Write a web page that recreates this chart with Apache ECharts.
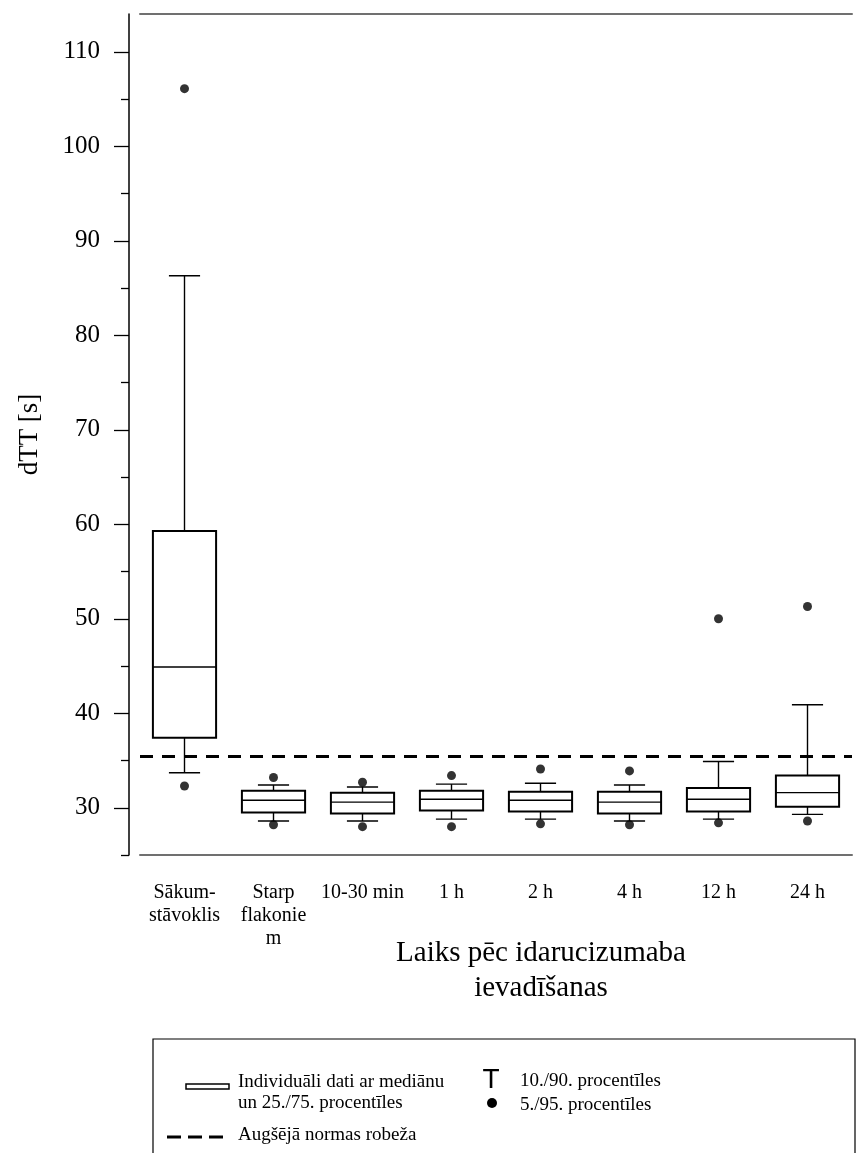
<!DOCTYPE html>
<html>
<head>
<meta charset="utf-8">
<script src="https://cdn.jsdelivr.net/npm/echarts@6/dist/echarts.min.js"></script>
<style>
  html, body { margin: 0; padding: 0; background: #fff; }
  #chart { width: 862px; height: 1153px; }
</style>
</head>
<body>
<div id="chart"></div>
<script>
// categories (time after idarucizumab)
const categories = ['Sākum-\nstāvoklis', 'Starp\nflakonie\nm', '10-30 min', '1 h', '2 h', '4 h', '12 h', '24 h'];

// percentiles
const p5     = [32.3, 28.2, 28.0, 28.0, 28.3, 28.2, 28.4, 28.6];
const p10    = [33.7, 28.6, 28.6, 28.8, 28.8, 28.6, 28.8, 29.3];
const q1     = [37.4, 29.5, 29.4, 29.7, 29.6, 29.4, 29.6, 30.1];
const median = [44.9, 30.8, 30.6, 30.9, 30.8, 30.6, 30.9, 31.6];
const q3     = [59.3, 31.8, 31.6, 31.8, 31.7, 31.7, 32.1, 33.4];
const p90    = [86.3, 32.4, 32.2, 32.5, 32.6, 32.4, 34.9, 40.9];
const p95    = [106.1, 33.2, 32.7, 33.4, 34.1, 33.9, 50.0, 51.3];

const upperLimit = 35.5;

// y axis ticks
const yMajorTicks = [30, 40, 50, 60, 70, 80, 90, 100, 110];
const yMinorTicks = [25, 35, 45, 55, 65, 75, 85, 95, 105];

const serif = 'Liberation Serif';
const chart = echarts.init(document.getElementById('chart'));

function renderBox(params, api) {
  const x = api.value(0);
  const lo = api.coord([x, api.value(1)]);
  const b1 = api.coord([x, api.value(2)]);
  const md = api.coord([x, api.value(3)]);
  const b3 = api.coord([x, api.value(4)]);
  const hi = api.coord([x, api.value(5)]);
  const band = api.size([1, 0])[0];
  const bw = band * 0.71;
  const cw = band * 0.35;
  const cx = lo[0];
  const line = (x1, y1, x2, y2, w) => ({
    type: 'line',
    shape: { x1, y1, x2, y2 },
    style: { stroke: '#000', lineWidth: w }
  });
  return {
    type: 'group',
    children: [
      line(cx, hi[1], cx, b3[1], 1.4),
      line(cx, b1[1], cx, lo[1], 1.4),
      line(cx - cw / 2, hi[1], cx + cw / 2, hi[1], 1.4),
      line(cx - cw / 2, lo[1], cx + cw / 2, lo[1], 1.4),
      {
        type: 'rect',
        shape: { x: cx - bw / 2, y: b3[1], width: bw, height: b1[1] - b3[1] },
        style: { fill: '#fff', stroke: '#000', lineWidth: 2 }
      },
      line(cx - bw / 2, md[1], cx + bw / 2, md[1], 1.4)
    ]
  };
}

const option = {
  backgroundColor: '#fff',
  animation: false,
  grid: { left: 140, right: 10, top: 14, bottom: 298 },
  xAxis: [
    {
      type: 'category',
      data: categories,
      position: 'bottom',
      axisLine: { lineStyle: { color: '#707070', width: 2 } },
      axisTick: { alignWithLabel: true, length: 15, lineStyle: { color: '#000', width: 1.3 } },
      axisLabel: {
        interval: 0, margin: 26, color: '#000',
        fontFamily: serif, fontSize: 20, lineHeight: 23, align: 'center'
      },
      splitLine: { show: false }
    },
    {
      type: 'category',
      data: categories,
      position: 'top',
      axisLine: { lineStyle: { color: '#707070', width: 2 } },
      axisTick: { show: false },
      axisLabel: { show: false },
      splitLine: { show: false }
    }
  ],
  yAxis: [
    {
      type: 'value',
      min: 25, max: 114,
      offset: 11,
      name: 'dTT [s]',
      nameLocation: 'middle',
      nameGap: 86,
      nameTextStyle: { fontFamily: serif, fontSize: 27, color: '#000' },
      axisLine: { show: true, lineStyle: { color: '#000', width: 1.5 } },
      axisTick: { show: true, length: 15, customValues: yMajorTicks, lineStyle: { color: '#000', width: 1.3 } },
      axisLabel: { customValues: yMajorTicks, margin: 29, color: '#000', fontFamily: serif, fontSize: 25 },
      splitLine: { show: false }
    },
    {
      type: 'value',
      min: 25, max: 114,
      offset: 11,
      position: 'left',
      axisLine: { show: false },
      axisTick: { show: true, length: 8, customValues: yMinorTicks, lineStyle: { color: '#000', width: 1.3 } },
      axisLabel: { show: false },
      splitLine: { show: false }
    }
  ],
  series: [
    {
      type: 'custom',
      renderItem: renderBox,
      encode: { x: 0, y: [1, 2, 3, 4, 5] },
      data: categories.map((c, i) => [i, p10[i], q1[i], median[i], q3[i], p90[i]]),
      z: 3
    },
    {
      type: 'scatter',
      symbol: 'circle',
      symbolSize: 9,
      itemStyle: { color: '#000' },
      data: categories.map((c, i) => [i, p95[i]]).concat(categories.map((c, i) => [i, p5[i]])),
      z: 4,
      markLine: {
        silent: true,
        symbol: 'none',
        label: { show: false },
        lineStyle: { color: '#000', width: 3, type: [13, 9] },
        data: [{ yAxis: upperLimit }],
        z: 2
      }
    }
  ],
  graphic: [
    {
      type: 'text',
      x: 541, y: 936,
      style: {
        text: 'Laiks pēc idarucizumaba\nievadīšanas',
        fontFamily: serif, fontSize: 29, lineHeight: 35,
        fill: '#000', align: 'center', verticalAlign: 'top'
      }
    },
    // legend box
    {
      type: 'rect',
      shape: { x: 153, y: 1039, width: 702, height: 130 },
      style: { fill: 'none', stroke: '#000', lineWidth: 1.2 }
    },
    {
      type: 'rect',
      shape: { x: 186, y: 1084, width: 43, height: 5 },
      style: { fill: '#fff', stroke: '#000', lineWidth: 1.5 }
    },
    {
      type: 'text', x: 238, y: 1072,
      style: {
        text: 'Individuāli dati ar mediānu\nun 25./75. procentīles',
        fontFamily: serif, fontSize: 19, lineHeight: 21,
        fill: '#000', align: 'left', verticalAlign: 'top'
      }
    },
    {
      type: 'line',
      shape: { x1: 167, y1: 1137, x2: 223, y2: 1137 },
      style: { stroke: '#000', lineWidth: 3, lineDash: [14, 7] }
    },
    {
      type: 'text', x: 238, y: 1135,
      style: {
        text: 'Augšējā normas robeža',
        fontFamily: serif, fontSize: 19,
        fill: '#000', align: 'left', verticalAlign: 'middle'
      }
    },
    {
      type: 'text', x: 491, y: 1080,
      style: {
        text: 'T', fontFamily: 'Liberation Sans', fontSize: 28,
        fill: '#000', align: 'center', verticalAlign: 'middle'
      }
    },
    {
      type: 'text', x: 520, y: 1081,
      style: {
        text: '10./90. procentīles', fontFamily: serif, fontSize: 19,
        fill: '#000', align: 'left', verticalAlign: 'middle'
      }
    },
    {
      type: 'circle',
      shape: { cx: 492, cy: 1103, r: 5 },
      style: { fill: '#000' }
    },
    {
      type: 'text', x: 520, y: 1105,
      style: {
        text: '5./95. procentīles', fontFamily: serif, fontSize: 19,
        fill: '#000', align: 'left', verticalAlign: 'middle'
      }
    }
  ]
};

chart.setOption(option);
</script>
</body>
</html>
